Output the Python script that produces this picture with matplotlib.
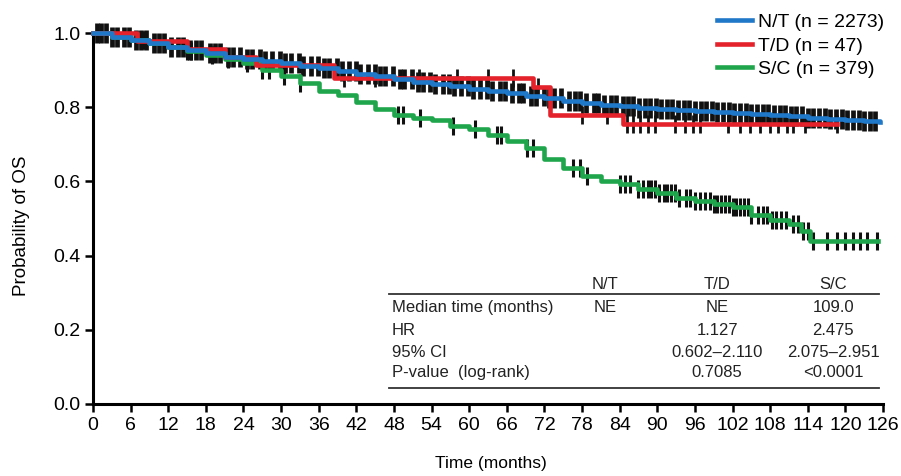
import numpy as np
import matplotlib
matplotlib.use("Agg")
import matplotlib.pyplot as plt

plt.rcParams['font.family'] = ['Liberation Sans', 'DejaVu Sans']

# Kaplan-Meier curves (months, survival)
nt_time = [0, 3, 6, 9, 12, 15, 18, 21, 24, 27, 30, 33, 36, 39, 42, 45, 48, 51, 54, 57, 60,
           63, 66, 69, 72, 75, 78, 81, 84, 87, 90, 93, 96, 99, 102, 105, 108, 111, 114, 117,
           120, 123, 125.5]
nt_surv = [1.0, 0.99, 0.981, 0.972, 0.963, 0.954, 0.945, 0.935, 0.929, 0.924, 0.919, 0.912,
           0.905, 0.898, 0.89, 0.883, 0.876, 0.869, 0.862, 0.856, 0.85, 0.843, 0.837, 0.831,
           0.824, 0.817, 0.811, 0.806, 0.802, 0.798, 0.795, 0.792, 0.79, 0.787, 0.784, 0.782,
           0.779, 0.776, 0.772, 0.768, 0.765, 0.762, 0.76]

td_time = [0, 7, 15, 21, 26, 38.5, 70.2, 72.9, 84.5, 118.6]
td_surv = [1.0, 0.979, 0.957, 0.936, 0.915, 0.88, 0.855, 0.78, 0.755, 0.755]

sc_time = [0, 3, 6, 9, 12, 15, 18, 21, 24, 27, 30, 33, 36, 39, 42, 45, 48, 51, 54, 57, 60,
           63, 66, 69, 72, 75, 78, 81, 84, 87, 90, 93, 96, 99, 102, 105, 108, 111, 113,
           114.4, 125.2]
sc_surv = [1.0, 0.99, 0.98, 0.972, 0.962, 0.952, 0.942, 0.93, 0.918, 0.9, 0.885, 0.865, 0.845,
           0.832, 0.815, 0.795, 0.78, 0.77, 0.765, 0.75, 0.74, 0.725, 0.71, 0.69, 0.66, 0.635,
           0.615, 0.6, 0.594, 0.58, 0.57, 0.555, 0.548, 0.54, 0.53, 0.51, 0.497, 0.485, 0.465,
           0.44, 0.44]

# censoring times
nt_censor = [0.6, 1.3, 2.1, 3.0, 3.8, 4.9, 5.7, 6.8, 7.6, 8.5, 9.7, 10.6, 11.4, 12.5, 13.6,
             14.3, 15.5, 16.4, 17.2, 18.6, 19.5, 20.3, 21.6, 22.4, 23.5, 24.6, 25.4, 26.7,
             27.5, 28.6, 29.8, 30.7, 31.6, 32.8, 33.5, 34.7, 35.9, 36.8, 37.6, 38.9, 39.7,
             40.8, 41.9, 42.6, 43.8, 44.9, 45.7, 46.6, 47.8, 48.9, 49.6, 50.8, 51.9, 52.7,
             53.8, 54.6, 55.9, 56.8, 57.5, 58.7, 59.8, 60.6, 61.7, 62.8, 63.6, 64.9, 65.7,
             66.8, 67.9, 68.6, 69.8, 70.7, 71.9, 72.8, 73.6, 74.7, 75.9, 76.8, 77.6, 78.7,
             79.9, 80.6, 81.5, 82.6, 83.4, 84.5, 85.3, 86.2, 87.1, 88.0, 88.9, 89.8, 90.6,
             91.5, 92.4, 93.3, 94.2, 95.1, 96.0, 96.9, 97.8, 98.7, 99.6, 100.5, 101.4, 102.3,
             103.2, 104.1, 105.0, 105.9, 106.8, 107.7, 108.6, 109.5, 110.4, 111.3, 112.2,
             113.1, 114.0, 114.9, 115.8, 116.7, 117.6, 118.5, 119.4, 120.3, 121.2, 122.1,
             123.0, 123.9, 124.8]
td_censor = [40, 45, 52, 58, 63, 67, 71, 78, 82, 85.2, 86.1, 87.2, 88.5, 89.6, 92.8, 94.4,
             95.7, 96.8, 101.3, 103.2, 104.8, 106.4, 108, 109.2, 110.7, 111.6, 113.6, 118.6]
sc_censor = [3, 8, 15, 15.6, 19, 21.5, 24.5, 27, 28, 30.5, 33, 48.6, 49.4, 52.2, 57.4, 61,
             64.4, 65, 69.2, 70.2, 76.6, 77.7, 78.8, 84, 84.8, 85.6, 87, 87.8, 88.5, 89, 89.6,
             90.3, 91, 91.6, 92.2, 92.8, 93.4, 94.5, 95.2, 96, 96.8, 97.6, 98.4, 99, 99.6,
             100.2, 100.8, 101.4, 102, 102.6, 103.2, 103.8, 104.4, 105, 106, 106.8, 107.5,
             108.3, 109, 109.8, 110.6, 111.6, 112.4, 113.2, 114, 114.8, 117, 118.7, 120, 121.2,
             122.3, 123.4, 125]

labels = ['N/T (n = 2273)', 'T/D (n = 47)', 'S/C (n = 379)']
colors = ['#1f78c8', '#e3222b', '#1fa64c']

# summary table
tbl_cols = ['N/T', 'T/D', 'S/C']
tbl_rows = ['Median time (months)', 'HR', '95% CI', 'P-value  (log-rank)']
tbl_vals = [['NE', 'NE', '109.0'],
            ['', '1.127', '2.475'],
            ['', '0.602\u20132.110', '2.075\u20132.951'],
            ['', '0.7085', '<0.0001']]


def surv_at(times, surv, t):
    idx = np.searchsorted(times, t, side='right') - 1
    return np.asarray(surv)[idx]


fig = plt.figure(figsize=(9.01, 4.76), dpi=100)
ax = fig.add_axes([93 / 901, 72 / 476, 790 / 901, 371 / 476])

# censor ticks under the lines
for times, surv, cens, ms, mew in [(nt_time, nt_surv, nt_censor, 14, 3.4),
                                    (td_time, td_surv, td_censor, 13, 2.0),
                                    (sc_time, sc_surv, sc_censor, 13, 2.2)]:
    ax.plot(cens, surv_at(times, surv, cens), linestyle='none', marker='|',
            markersize=ms, markeredgewidth=mew, color='#111111', zorder=2, clip_on=False)

lines = {}
for name, times, surv, col, z in [('N/T', nt_time, nt_surv, colors[0], 5),
                                  ('T/D', td_time, td_surv, colors[1], 4),
                                  ('S/C', sc_time, sc_surv, colors[2], 3)]:
    lines[name], = ax.step(times, surv, where='post', color=col, lw=3.3,
                           zorder=z, clip_on=False)

ax.set_xlim(0, 126)
ax.set_ylim(0, 1.0)
ax.set_xticks(np.arange(0, 127, 6))
ax.set_yticks([0.0, 0.2, 0.4, 0.6, 0.8, 1.0])
ax.set_yticklabels(['0.0', '0.2', '0.4', '0.6', '0.8', '1.0'])

for s in ['top', 'right']:
    ax.spines[s].set_visible(False)
for s in ['left', 'bottom']:
    ax.spines[s].set_linewidth(2.2)
ax.tick_params(direction='out', length=6, width=1.8, labelsize=14, pad=3)

ax.set_ylabel('Probability of OS', fontsize=13.5)
ax.yaxis.set_label_coords(-0.08, 0.48)
ax.set_xlabel('Time (months)', fontsize=12.5)
ax.xaxis.set_label_coords(0.504, -0.14)

leg = fig.legend([lines['N/T'], lines['T/D'], lines['S/C']], labels,
                 loc='upper right', bbox_to_anchor=(0.996, 1.0), frameon=False,
                 fontsize=14, handlelength=1.8, handletextpad=0.3,
                 labelspacing=0.3, borderpad=0.2)

# table
col_x = [0.648, 0.790, 0.937]
row_y = [0.259, 0.197, 0.140, 0.084]
for cx, c in zip(col_x, tbl_cols):
    ax.text(cx, 0.321, c, transform=ax.transAxes, ha='center', va='center',
            fontsize=12, color='#222222')
ax.plot([0.375, 0.995], [0.296, 0.296], transform=ax.transAxes, color='#333333',
        lw=1.3, clip_on=False)
ax.plot([0.375, 0.995], [0.043, 0.043], transform=ax.transAxes, color='#333333',
        lw=1.3, clip_on=False)
for ry, rname, vals in zip(row_y, tbl_rows, tbl_vals):
    ax.text(0.378, ry, rname, transform=ax.transAxes, ha='left', va='center',
            fontsize=12, color='#222222')
    for cx, v in zip(col_x, vals):
        ax.text(cx, ry, v, transform=ax.transAxes, ha='center', va='center',
                fontsize=12, color='#222222')

fig.savefig('out.png', dpi=100)
